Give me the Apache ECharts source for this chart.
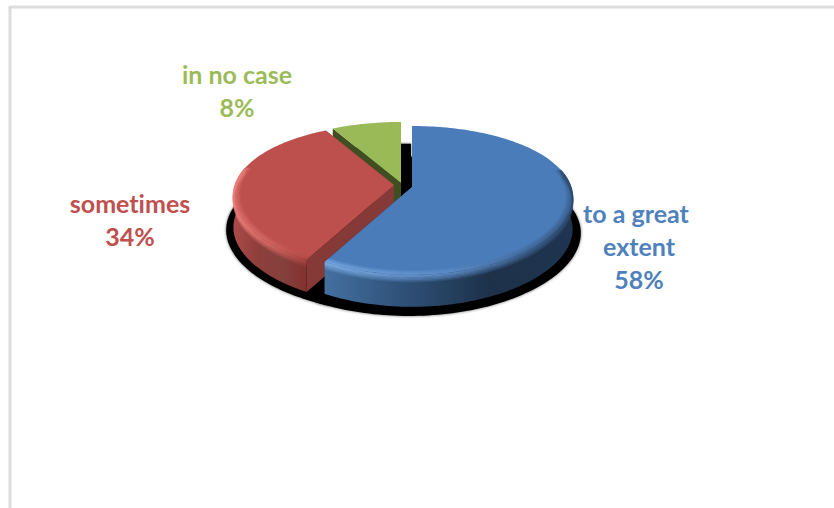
<!DOCTYPE html>
<html>
<head>
<meta charset="utf-8">
<style>
html,body{margin:0;padding:0;background:#fff}
#chart{width:834px;height:508px}
#chart text{font-variant-ligatures:none !important;font-feature-settings:"liga" 0,"clig" 0 !important}
</style>
<script src="https://cdn.jsdelivr.net/npm/echarts@6/dist/echarts.min.js"></script>
</head>
<body>
<div id="chart"></div>
<script>
// Survey answers, clockwise from twelve o'clock
const categories = ['to a great extent', 'sometimes', 'in no case'];
const percentages = [58, 34, 8];

// Look of the tilted pie: one entry per slice
const sliceStyles = [
  { apex: [412, 187], top: '#4a7cb9', rim: ['#7eaee6', '#5f8fca', '#2c4a70'], side: ['#43709f', '#2e4f76', '#1d3149', '#1f3450'], cut: '#2e4f76', shadowShift: [-3, 35], shadowReach: 0, label: [639, 196], wrap: 118 },
  { apex: [394, 185], top: '#bd4f4c', rim: ['#ec7f7b', '#d86a66', '#a8433f'], side: ['#ad4b48', '#8e3e3b', '#85413d', '#84312f'], cut: '#853a37', shadowShift: [4, 34], shadowReach: 0.14, label: [130, 186], wrap: 170 },
  { apex: [401, 183], top: '#9aba58', rim: ['#9aba58', '#9aba58', '#9aba58'], side: ['#4a5d28', '#4a5d28', '#4a5d28', '#4a5d28'], cut: '#3f4f22', shadowShift: [10, 26], shadowReach: 0, label: [237, 57], wrap: 170 }
];
const textColors = ['#4f81bd', '#c0504d', '#9bbb59'];

const radiusX = 159, radiusY = 72, perspectiveX = 0.14, perspectiveY = 0.18, depth = 32;
const total = percentages.reduce((a, b) => a + b, 0);

// Start and end angle of each slice, in radians clockwise from the top
const spans = [];
percentages.reduce((acc, v) => {
  const next = acc + v / total * Math.PI * 2;
  spans.push([acc, next]);
  return next;
}, 0);

// Point on the disc at angle a and radius r, seen with a little perspective
function project(apex, a, r, drop, scale) {
  const u = Math.sin(a) * r, v = -Math.cos(a) * r;
  const wx = 1 / (1 - perspectiveX * v), wy = 1 / (1 - perspectiveY * v);
  const s = scale || 1;
  return [apex[0] + radiusX * u * wx * s, apex[1] + radiusY * v * wy * s + (drop || 0)];
}
function arc(apex, from, to, r, drop, scale) {
  const pts = [], n = Math.max(2, Math.ceil((to - from) * 40));
  for (let i = 0; i <= n; i++) pts.push(project(apex, from + (to - from) * i / n, r, drop, scale));
  return pts;
}
const hGrad = (stops) => new echarts.graphic.LinearGradient(0, 0, 1, 0,
  stops.map((c, i) => ({ offset: i / (stops.length - 1), color: c })));

// The dark copy of the pie lying beneath it
function renderShadow(params, api) {
  const i = api.value(0), st = sliceStyles[i], sp = spans[i];
  const apex = [st.apex[0] + st.shadowShift[0], st.apex[1] + st.shadowShift[1]];
  const pts = [apex].concat(arc(apex, sp[0] - st.shadowReach, sp[1], 1, 0, 1.07));
  return { type: 'polygon', silent: true, shape: { points: pts },
    style: { fill: '#000', shadowBlur: 3, shadowColor: 'rgba(0,0,0,0.6)' } };
}

// Front range of the outer wall, where it faces the viewer
function frontRange(sp) {
  const lo = Math.max(sp[0], Math.PI * 0.42), hi = Math.min(sp[1], Math.PI * 1.58);
  return lo < hi ? [lo, hi] : null;
}

function renderSlice(params, api) {
  const i = api.value(0), st = sliceStyles[i], sp = spans[i], apex = st.apex;
  const children = [];
  const startPt = project(apex, sp[0], 1), endPt = project(apex, sp[1], 1);

  // Cut wall along the edge that closes the slice clockwise
  children.push({ type: 'polygon', shape: { points: [
    apex, endPt, [endPt[0], endPt[1] + depth], [apex[0], apex[1] + depth]] },
    style: { fill: st.cut } });
  // Cut wall on the leading edge is visible only where it turns to the viewer
  if (sp[0] > Math.PI) {
    children.push({ type: 'polygon', shape: { points: [
      apex, startPt, [startPt[0], startPt[1] + depth], [apex[0], apex[1] + depth]] },
      style: { fill: st.cut } });
  }

  // Outer wall
  const fr = frontRange(sp);
  if (fr) {
    const upper = arc(apex, fr[0], fr[1], 1, 0);
    const lower = arc(apex, fr[0], fr[1], 1, depth).reverse();
    children.push({ type: 'polygon', shape: { points: upper.concat(lower) },
      style: { fill: hGrad(st.side) } });
  }

  // Top face
  children.push({ type: 'polygon', shape: { points: [apex].concat(arc(apex, sp[0], sp[1], 1, 0)) },
    style: { fill: st.top } });

  // Rounded rim: thin bands fading in both directions from the edge
  if (fr) {
    for (let b = 0; b < 6; b++) {
      children.push({ type: 'polyline', shape: { points: arc(apex, fr[0], fr[1], 1, b * 1.2 + 0.8) },
        style: { fill: 'none', stroke: hGrad(st.rim), lineWidth: 1.6, opacity: 0.85 - b * 0.14 } });
      children.push({ type: 'polyline', shape: { points: arc(apex, fr[0], fr[1], 0.995 - b * 0.007, 0) },
        style: { fill: 'none', stroke: hGrad(st.rim), lineWidth: 1.4, opacity: 0.6 - b * 0.1 } });
    }
  }

  // Category name and percentage
  children.push({ type: 'text', silent: true, x: st.label[0], y: st.label[1],
    style: { text: categories[i] + '\n' + percentages[i] + '%', fill: textColors[i],
      font: 'bold 25px Lato', lineHeight: 33, align: 'center', verticalAlign: 'top',
      width: st.wrap, overflow: 'break' } });

  return { type: 'group', children };
}

// Painted back to front: the largest slice sits on top
const paintOrder = percentages.map((_, i) => [i]).reverse();

const chart = echarts.init(document.getElementById('chart'), null, { renderer: 'svg' });
chart.setOption({
  animation: false,
  backgroundColor: '#fff',
  graphic: [
    { type: 'line', silent: true, shape: { x1: 10, y1: 7, x2: 834, y2: 7 }, style: { stroke: '#dcdcdc', lineWidth: 3 } },
    { type: 'line', silent: true, shape: { x1: 10, y1: 6, x2: 10, y2: 508 }, style: { stroke: '#dcdcdc', lineWidth: 3 } }
  ],
  series: [
    { type: 'custom', coordinateSystem: 'none', z: 1, data: paintOrder, renderItem: renderShadow },
    { type: 'custom', coordinateSystem: 'none', z: 2, data: paintOrder, renderItem: renderSlice }
  ]
});
</script>
</body>
</html>
